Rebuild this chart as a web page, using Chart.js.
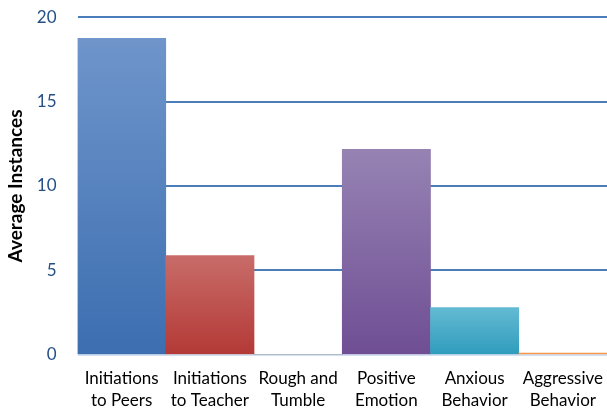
<!DOCTYPE html>
<html>
<head>
<meta charset="utf-8">
<script src="https://cdn.jsdelivr.net/npm/chart.js@4"></script>
<style>
    html, body { margin: 0; padding: 0; background: #fff; }
    #wrap { width: 607px; height: 412px; }
</style>
</head>
<body>
<div id="wrap"><canvas id="chart"></canvas></div>
<script>
// Veriler
const categories = [
    ['Initiations', 'to Peers'],
    ['Initiations', 'to Teacher'],
    ['Rough and', 'Tumble'],
    ['Positive', 'Emotion'],
    ['Anxious', 'Behavior'],
    ['Aggressive', 'Behavior']
];
const averageInstances = [18.75, 5.88, 0, 12.17, 2.79, 0.1];
const yTicks = [0, 5, 10, 15, 20];

// renk: üst (açık) -> alt (koyu)
const barColors = [
    ['#6f95cb', '#3c6eb0'],
    ['#c86c69', '#b33935'],
    ['#9b9b9b', '#7f7f7f'],
    ['#9683b3', '#6f4e94'],
    ['#63bad3', '#2f9cbc'],
    ['#f9a062', '#f79646']
];

function barGradient(context) {
    const chart = context.chart;
    const area = chart.chartArea;
    const i = context.dataIndex;
    if (!area || i === undefined) return barColors[0][1];
    const y = chart.scales.y;
    const top = y.getPixelForValue(averageInstances[i]);
    const bottom = y.getPixelForValue(0);
    // çok ince çubuklar düz renk
    if (bottom - top < 4) return barColors[i][1];
    const g = chart.ctx.createLinearGradient(0, top, 0, bottom);
    g.addColorStop(0, barColors[i][0]);
    g.addColorStop(1, barColors[i][1]);
    return g;
}

new Chart(document.getElementById('chart'), {
    type: 'bar',
    data: {
        labels: categories,
        datasets: [{
            label: 'Average Instances',
            data: averageInstances,
            backgroundColor: barGradient,
            borderWidth: 0,
            barPercentage: 1,
            categoryPercentage: 1
        }]
    },
    options: {
        responsive: true,
        maintainAspectRatio: false,
        animation: false,
        layout: { padding: { top: 0, right: 0, left: 4, bottom: 0 } },
        plugins: {
            legend: { display: false },
            tooltip: { enabled: false }
        },
        scales: {
            x: {
                grid: { display: false, drawTicks: true, tickLength: 13 },
                border: { display: false },
                ticks: {
                    color: '#000',
                    font: { family: 'Lato', size: 17, lineHeight: 1.3 },
                    padding: 0,
                    maxRotation: 0,
                    autoSkip: false
                }
            },
            y: {
                min: 0,
                max: 20,
                afterBuildTicks: (axis) => {
                    axis.ticks = yTicks.map(v => ({ value: v }));
                },
                grid: {
                    color: (c) => c.index === 0 ? '#d3e0f1' : '#4a7ebb',
                    lineWidth: 2,
                    drawTicks: true,
                    tickLength: 14,
                    tickColor: 'rgba(0,0,0,0)'
                },
                border: { display: false },
                ticks: {
                    color: '#254f85',
                    font: { family: 'Lato', size: 17 },
                    padding: 7
                },
                title: {
                    display: true,
                    text: 'Average Instances',
                    color: '#000',
                    font: { family: 'Lato', size: 19, weight: 'bold' },
                    padding: { top: 0, bottom: 3 }
                }
            }
        }
    }
});
</script>
</body>
</html>
